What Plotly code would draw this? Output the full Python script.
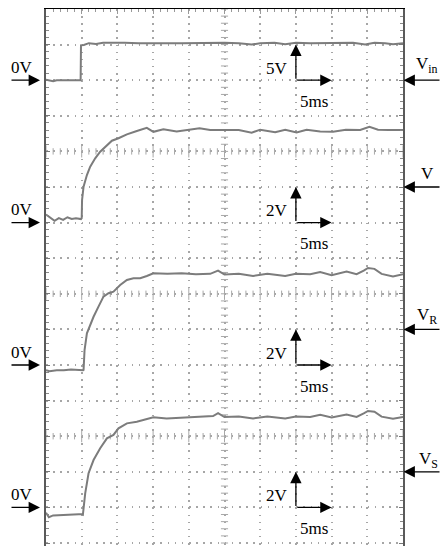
import plotly.graph_objects as go

# ---------------- data (time in ms, voltage in V) ----------------
vin_t = [0, 0.5, 1.0, 1.5, 2.5, 4.85, 4.9, 5.3, 6.0, 7.0, 8.0, 9.5, 11, 13, 15, 17, 19, 21, 23, 25, 27,
         28.8, 30, 32, 33.5, 35, 37, 39, 41, 43, 44.7, 46, 47.5, 48.6, 50]
vin_v = [0.05, -0.1, -0.15, 0.0, 0.0, 0.0, 4.9, 4.95, 5.2, 5.1, 5.25, 5.2, 5.25, 5.2, 5.25, 5.2, 5.2, 5.25,
         5.2, 5.25, 5.2, 5.0, 5.2, 5.25, 5.05, 5.25, 5.2, 5.25, 5.2, 5.25, 5.0, 5.25, 5.2, 5.05, 5.2]

v_t = [0, 0.6, 1.2, 1.8, 2.4, 3.0, 3.6, 4.2, 4.9, 5.0, 5.05, 5.26, 5.73, 6.19, 6.89, 7.59, 8.53, 9.23,
       10.15, 11.33, 12.72, 14.12, 15.04, 16.44, 18.3, 20, 21.5, 23, 25, 27, 28.8, 30, 32.1, 33.5, 35.1,
       36.5, 38.4, 40.2, 42, 44, 45.3, 46.5, 48, 50]
v_v = [0.45, 0.25, 0.1, 0.25, 0.15, 0.3, 0.2, 0.25, 0.2, 0.25, 1.27, 2.02, 2.67, 3.14, 3.61, 3.98, 4.36,
       4.6, 4.74, 4.96, 5.15, 5.32, 5.1, 5.24, 5.12, 5.22, 5.3, 5.2, 5.22, 5.2, 5.05, 5.22, 5.08, 5.22,
       5.06, 5.22, 5.12, 5.1, 5.22, 5.2, 5.38, 5.22, 5.2, 5.2]

vr_t = [0, 0.5, 1.5, 2.5, 3.5, 4.5, 5.2, 5.26, 5.4, 5.73, 6.19, 6.66, 7.35, 8.05, 8.75, 9.45, 10.39,
        11.33, 12.25, 13.19, 14.12, 15.04, 17, 19, 21, 23, 24.1, 25, 27, 29, 31, 33.5, 35, 37, 38.4, 40,
        42.1, 43.5, 44.5, 45.1, 46, 47, 48.6, 50]
vr_v = [-0.3, -0.35, -0.3, -0.3, -0.25, -0.3, -0.3, -0.28, 0.84, 1.78, 2.25, 2.71, 3.28, 3.84, 4.03,
        4.12, 4.49, 4.78, 4.87, 4.87, 5.0, 5.15, 5.12, 5.15, 5.1, 5.12, 5.3, 5.08, 5.12, 5.0, 5.12, 5.0,
        5.12, 5.1, 5.22, 5.05, 5.25, 5.1, 5.3, 5.45, 5.4, 5.12, 4.98, 5.1]

vs_t = [0, 0.4, 1.0, 2.0, 3.0, 4.0, 4.6, 5.1, 5.17, 5.49, 5.96, 6.66, 7.59, 8.53, 9.45, 10.15, 11.33,
        12.72, 14.12, 15.04, 16.9, 19.7, 21.5, 23.4, 24.1, 25, 27, 29, 31, 33.5, 35, 37, 38.4, 40, 42.1,
        43.5, 44.5, 45.1, 46, 47, 48.6, 50]
vs_v = [-0.3, -0.55, -0.45, -0.42, -0.42, -0.4, -0.38, -0.38, -0.4, 0.79, 1.92, 2.66, 3.32, 3.88, 4.07,
        4.44, 4.72, 4.81, 4.95, 5.06, 5.0, 5.06, 5.08, 5.13, 5.3, 5.08, 5.1, 5.0, 5.1, 5.0, 5.1, 5.08,
        5.2, 5.05, 5.22, 5.08, 5.28, 5.42, 5.38, 5.1, 4.98, 5.08]

channel_names = ["V<sub>in</sub>", "V", "V<sub>R</sub>", "V<sub>S</sub>"]
channel_scale = ["5V", "2V", "2V", "2V"]          # volts per division labels
volts_per_div = [5, 2, 2, 2]
time_label = "5ms"

# ---------------- layout constants ----------------
W, H = 441, 546
ML, MR, MT, MB = 46, 38, 9, 0
MS_PER_DIV = 5
NX = 10
Y_TOP = 15.0
DIV_PX = 35.6
Y_BOT = Y_TOP - (H - MT - MB) / DIV_PX
zero_div = [13, 9, 5, 1]           # screen division of each channel's 0 V marker
label_div = [13, 10, 6, 2]         # right-hand channel marker
FONT = "'Liberation Serif', 'Times New Roman', Times, serif"
TRACE_COLOR = "#7c7c7c"
GRID_COLOR = "#a6a6a6"

fig = go.Figure()

# ticked graticule lines (horizontal at 11, 7, 3 and centre vertical)
tx, ty = [], []
for yl in (11, 7, 3):
    for i in range(0, NX * 5 + 1):
        xm = i * MS_PER_DIV / 5
        h = 0.17 if i % 5 == 0 else 0.09
        tx += [xm, xm, None]
        ty += [yl - h, yl + h, None]
xc = NX * MS_PER_DIV / 2
n = 0
yv = 0.0
while yv <= Y_TOP + 1e-9:
    tx += [xc - 0.5, xc + 0.5, None]
    ty += [yv, yv, None]
    n += 1
    yv = n * 0.2
fig.add_trace(go.Scatter(x=tx, y=ty, mode="lines", line=dict(color="#a8a8a8", width=1),
                         hoverinfo="skip", showlegend=False))

# signal traces
for t, v, z, s in ((vin_t, vin_v, zero_div[0], volts_per_div[0]),
                   (v_t, v_v, zero_div[1], volts_per_div[1]),
                   (vr_t, vr_v, zero_div[2], volts_per_div[2]),
                   (vs_t, vs_v, zero_div[3], volts_per_div[3])):
    fig.add_trace(go.Scatter(x=t, y=[z + val / s for val in v], mode="lines",
                             line=dict(color=TRACE_COLOR, width=2), showlegend=False,
                             hoverinfo="skip"))

ann = []


def arrow(x, y, ax, ay, xref="x", yref="y", axref="x", ayref="y"):
    ann.append(dict(x=x, y=y, ax=ax, ay=ay, xref=xref, yref=yref, axref=axref, ayref=ayref,
                    text="", showarrow=True, arrowhead=2, arrowsize=1.75, arrowwidth=1.3,
                    arrowcolor="black", standoff=0, startstandoff=0))


def text(x, y, s, xref="x", yref="y", size=17):
    ann.append(dict(x=x, y=y, xref=xref, yref=yref, text=s, showarrow=False,
                    font=dict(family=FONT, size=size, color="black"),
                    xanchor="center", yanchor="middle"))


plot_w = W - ML - MR
for i in range(4):
    z = zero_div[i]
    # left 0V markers
    arrow((40 - ML) / plot_w, z, -30, 0, xref="paper", axref="pixel", ayref="pixel")
    text((22 - ML) / plot_w, z + 0.36, "0V", xref="paper")
    # right channel markers
    r = label_div[i]
    arrow((403.5 - ML) / plot_w, r, 40, 0, xref="paper", axref="pixel", ayref="pixel")
    # scale indicators
    xs = 7 * MS_PER_DIV
    arrow(xs, z + 1, xs, z)
    arrow(xs + MS_PER_DIV, z, xs, z)
    text(32.3, z + 0.33, channel_scale[i])
    text(37.5, z - 0.6, time_label)

text((427 - ML) / plot_w, label_div[0] + 0.42, channel_names[0], xref="paper")
text((427 - ML) / plot_w, label_div[1] + 0.38, channel_names[1], xref="paper")
text((427 - ML) / plot_w, label_div[2] + 0.38, channel_names[2], xref="paper")
text((428 - ML) / plot_w, label_div[3] + 0.33, channel_names[3], xref="paper")

fig.update_layout(
    width=W, height=H, margin=dict(l=ML, r=MR, t=MT, b=MB, pad=0),
    paper_bgcolor="white", plot_bgcolor="white", showlegend=False,
    font=dict(family=FONT, size=17, color="black"),
    annotations=ann,
    xaxis=dict(range=[0, NX * MS_PER_DIV], tick0=0, dtick=MS_PER_DIV, showgrid=True,
               gridcolor=GRID_COLOR, gridwidth=1.5, griddash="1.5px,5.62px",
               showline=True, linecolor="black", linewidth=1, side="top", mirror=False,
               ticks="inside", ticklen=5, tickcolor="#999", tickwidth=1,
               minor=dict(dtick=1, ticks="inside", ticklen=3, tickcolor="#999", showgrid=False),
               showticklabels=False, zeroline=False, fixedrange=True),
    yaxis=dict(range=[Y_BOT, Y_TOP], tick0=0, dtick=1, showgrid=True,
               gridcolor=GRID_COLOR, gridwidth=1.5, griddash="1.5px,5.65px",
               showline=True, linecolor="#5a5a5a", linewidth=2, mirror="ticks",
               ticks="inside", ticklen=4, tickcolor="#777", tickwidth=1,
               minor=dict(dtick=0.2, ticks="inside", ticklen=3, tickcolor="#888", showgrid=False),
               showticklabels=False, zeroline=False, fixedrange=True),
)

fig.write_html("out.html", config={"displayModeBar": False},
               post_script="document.body.style.margin='0';document.body.style.padding='0';")
